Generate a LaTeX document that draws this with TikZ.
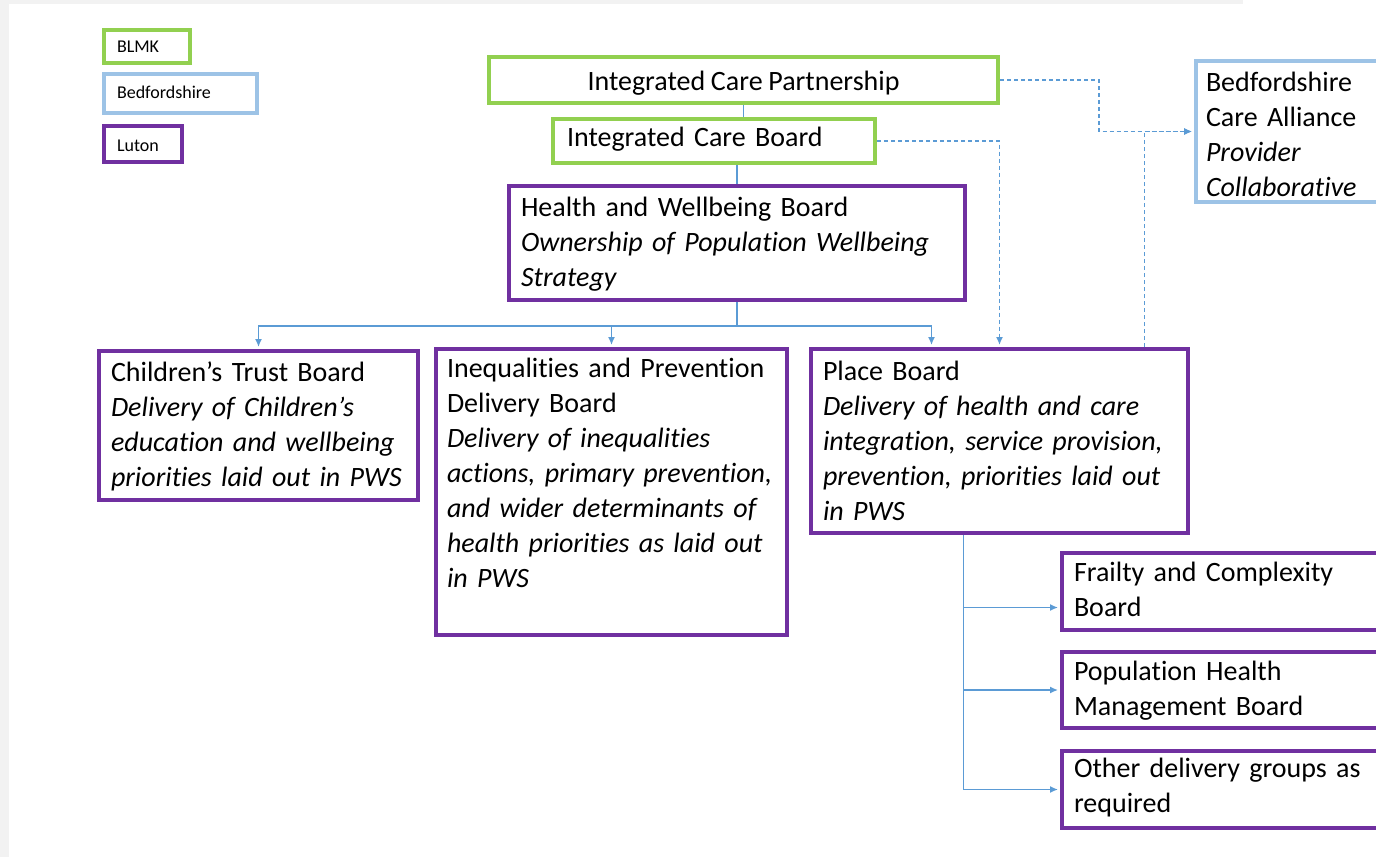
\documentclass[tikz,border=0pt]{standalone}
\usepackage{fontspec}
\setmainfont{Carlito}[Ligatures=NoCommon, WordSpace=0.9]
\usetikzlibrary{arrows.meta}

\definecolor{blmkgreen}{HTML}{92D050}
\definecolor{bedsblue}{HTML}{9DC3E6}
\definecolor{lutonpurple}{HTML}{7030A0}
\definecolor{linkblue}{HTML}{5B9BD5}
\definecolor{pagegrey}{HTML}{F2F2F2}

\tikzset{
    board/.style={draw, line width=4pt, fill=white, anchor=north west, inner xsep=12pt, inner ysep=0pt, align=left, font=\fontsize{28}{35}\selectfont},
    blmk/.style={board, draw=blmkgreen},
    beds/.style={board, draw=bedsblue},
    luton/.style={board, draw=lutonpurple},
    keybox/.style={draw, line width=4pt, fill=white, anchor=north west, inner xsep=13pt, inner ysep=0pt, align=left, font=\fontsize{18}{22}\selectfont},
    link/.style={draw=linkblue, line width=1.4pt},
    dashlink/.style={link, dash pattern=on 4pt off 3pt},
    arrowed/.style={-{Latex[length=8pt,width=7pt]}, shorten >=2pt}
}

\begin{document}
\begin{tikzpicture}[x=1pt, y=-1pt]
    \useasboundingbox (0,0) rectangle (1376,857);
    \clip (0,0) rectangle (1376,857);
    \fill[pagegrey] (0,0) rectangle (1376,857);
    \fill[white] (9,4) rectangle (1376,857);
    \fill[white] (1243,0) rectangle (1376,4);

    % key
    \node[keybox, draw=blmkgreen, text width=60pt, text height=22pt, text depth=11pt] (keyblmk) at (102,28) {BLMK};
    \node[keybox, draw=bedsblue, text width=127pt, text height=24pt, text depth=15pt] (keybeds) at (102,72) {Bedfordshire};
    \node[keybox, draw=lutonpurple, text width=52pt, text height=25pt, text depth=11pt] (keyluton) at (102,124) {Luton};

    % boards
    \node[blmk, align=center, minimum width=509pt, text height=33pt, text depth=13pt] (icp) at (487,55) {Integrated Care Partnership};
    \node[blmk, inner xsep=14pt, text width=294pt, text height=27.5pt, text depth=16.5pt] (icb) at (551,117) {Integrated Care Board};
    \node[luton, text width=432pt, text height=30pt, text depth=84pt] (hwb) at (507,184)
        {Health and Wellbeing Board\\ \textit{Ownership of Population Wellbeing}\\ \textit{Strategy}};
    \node[beds, inner xsep=10pt, text width=200pt, text height=30pt, text depth=111pt] (bca) at (1194,59)
        {Bedfordshire\\ Care Alliance\\ \textit{Provider}\\ \textit{Collaborative}};

    \node[luton, text width=295pt, text height=30pt, text depth=119pt] (ctb) at (97,349)
        {Children’s Trust Board\\ \textit{Delivery of Children’s}\\ \textit{education and wellbeing}\\ \textit{priorities laid out in PWS}};
    \node[luton, inner xsep=11pt, text width=329pt, text height=28pt, text depth=258pt] (ipdb) at (434,347)
        {Inequalities and Prevention\\ Delivery Board\\ \textit{Delivery of inequalities}\\ \textit{actions, primary prevention,}\\ \textit{and wider determinants of}\\ \textit{health priorities as laid out}\\ \textit{in PWS}};
    \node[luton, text width=353pt, text height=31pt, text depth=153pt] (place) at (809,347)
        {Place Board\\ \textit{Delivery of health and care}\\ \textit{integration, service provision,}\\ \textit{prevention, priorities laid out}\\ \textit{in PWS}};

    \node[luton, text width=316pt, text height=28pt, text depth=49pt] (frailty) at (1060,551) {Frailty and Complexity\\ Board};
    \node[luton, text width=316pt, text height=28.5pt, text depth=47.5pt] (phm) at (1060,650) {Population Health\\ Management Board};
    \node[luton, text width=316pt, text height=26.5pt, text depth=50.5pt] (other) at (1060,749) {Other delivery groups as\\ required};

    % solid links
    \draw[link] (icp.south) -- (icp.south |- icb.north);
    \draw[link] (hwb.north |- icb.south) -- (hwb.north);
    \coordinate (fork) at ([yshift=-24pt]hwb.south);
    \draw[link] (hwb.south) -- (fork);
    \draw[link, arrowed] (fork) -| (ctb.north);
    \draw[link, arrowed] (fork) -| (ipdb.north);
    \draw[link, arrowed] (fork) -| ([xshift=-68pt]place.north);

    \coordinate (drop) at ([xshift=-36pt]place.south);
    \draw[link, arrowed] (drop) |- ([yshift=-16pt]frailty.west);
    \draw[link, arrowed] (drop) |- (phm.west);
    \draw[link, arrowed] (drop) |- (other.west);

    % dashed links
    \draw[dashlink, arrowed] (icb.east) -| (place.north);
    \draw[dashlink, arrowed] (icp.east) -- ++(99,0) |- (bca.west);
    \draw[dashlink, arrowed] ([xshift=145pt]place.north) |- (bca.west);
\end{tikzpicture}
\end{document}
